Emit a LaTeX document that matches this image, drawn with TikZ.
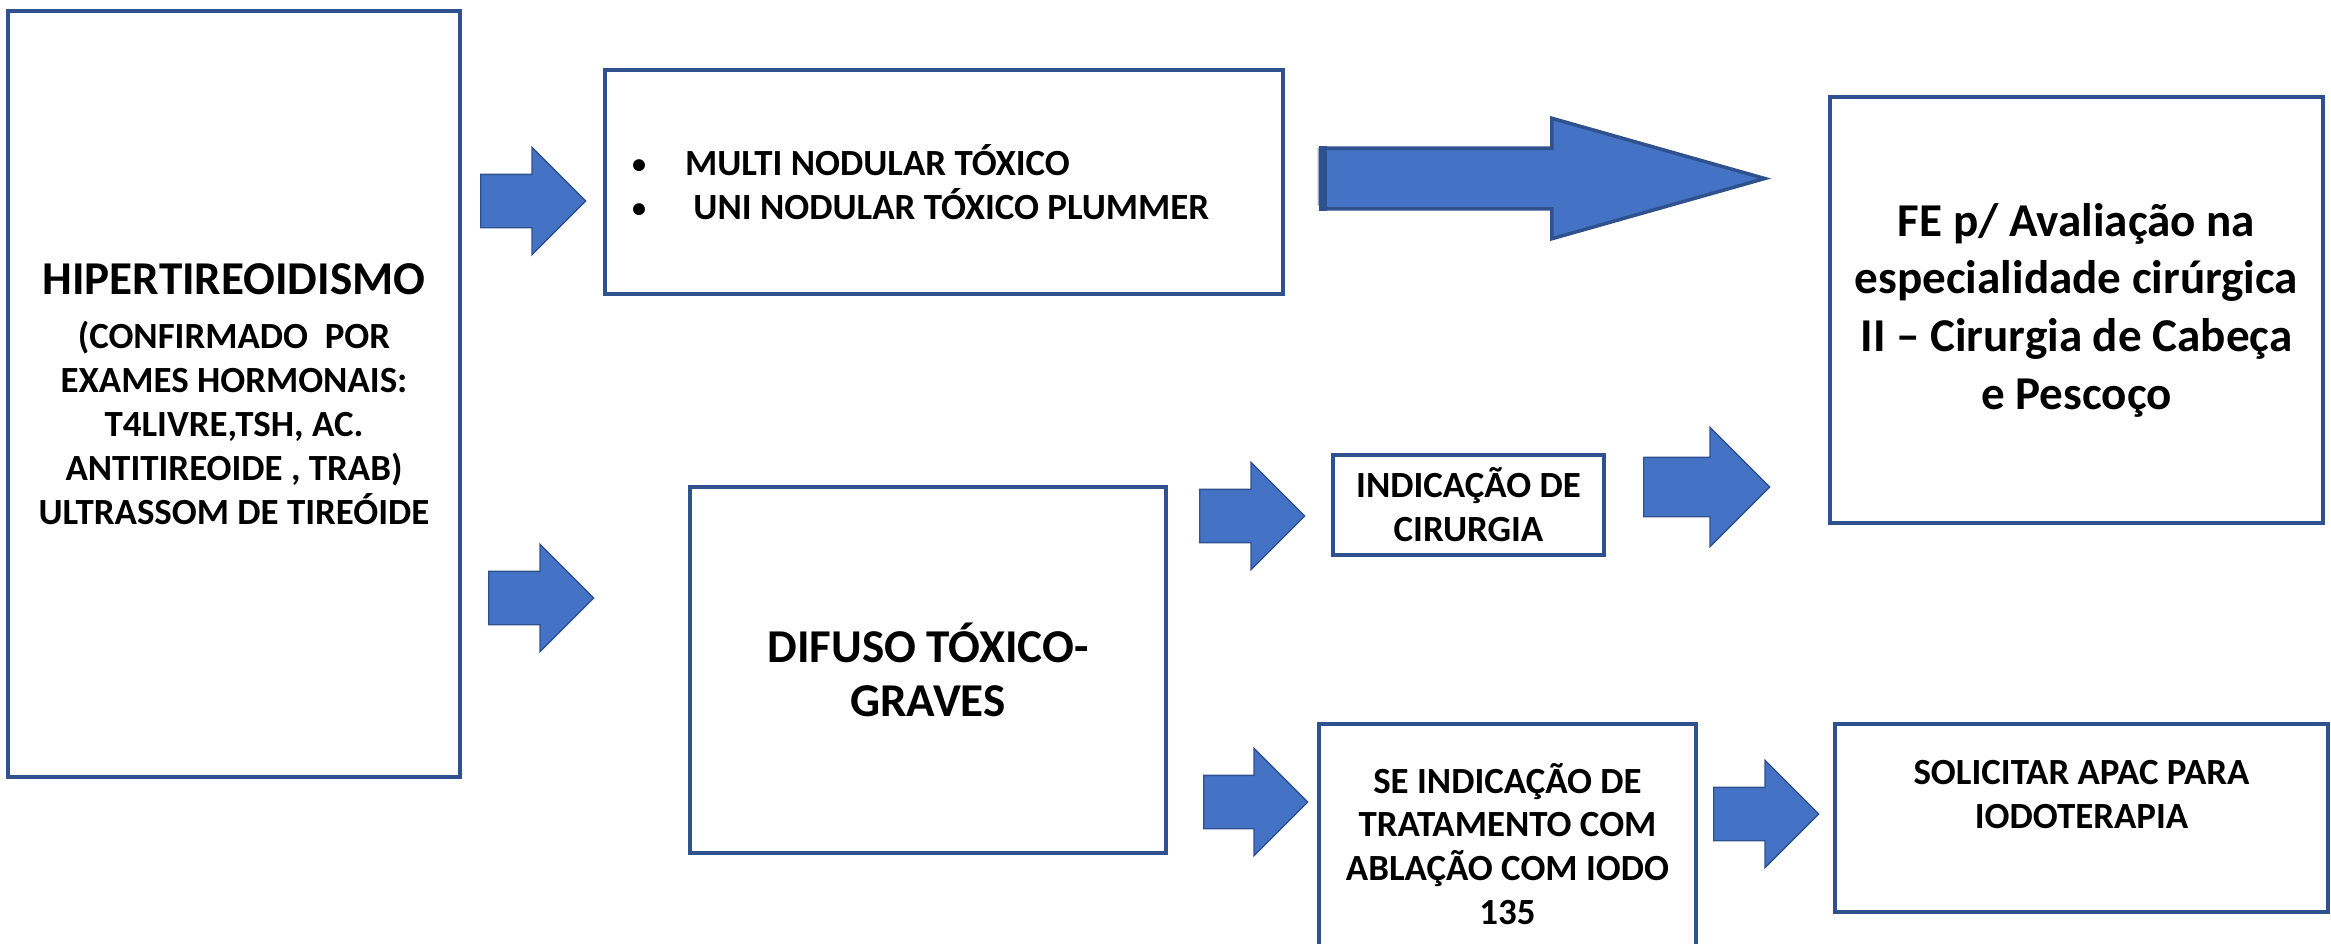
\documentclass[tikz,border=0pt]{standalone}
\usepackage{fontspec}
\setmainfont{Carlito}
\usetikzlibrary{shapes.arrows,positioning}
\definecolor{boxblue}{HTML}{2F528F}
\definecolor{fillblue}{HTML}{4472C4}
\definecolor{paleblue}{HTML}{9AAACB}
\tikzset{
  box/.style   = {draw=boxblue, line width=0.9pt, rectangle, align=center, inner sep=0pt},
  small/.style = {align=center, inner sep=0pt, font=\bfseries\fontsize{10.5}{12.5}\selectfont},
  large/.style = {font=\bfseries\fontsize{13.4}{16.4}\selectfont},
  blockarrow/.style = {single arrow, fill=fillblue, draw=boxblue, line width=0.4pt,
    single arrow head extend=0.27cm, single arrow tip angle=90, single arrow head indent=0pt,
    inner xsep=0pt, inner ysep=0.26cm, minimum height=1.05cm, anchor=tail}
}
\newcommand{\bul}{\makebox[0.53cm][l]{\raisebox{0.02cm}{\fontsize{8}{8}\selectfont •}}}

\begin{document}
\begin{tikzpicture}
      \useasboundingbox (0,0) rectangle (23.31,-9.44);
      % boxes
      \node[box, small, minimum width=4.52cm, minimum height=7.66cm] (hiper) at (2.34,-3.94)
      {{\fontsize{13.4}{16}\selectfont HIPERTIREOIDISMO}\\[0.1cm]
       (CONFIRMADO \ POR\\ EXAMES HORMONAIS:\\ T4LIVRE,TSH, AC.\\
       ANTITIREOIDE , TRAB)\\ ULTRASSOM DE TIREÓIDE};
      \node[box, minimum width=6.78cm, minimum height=2.24cm] (nodular) at (9.44,-1.82) {};
      \node[box, large, minimum width=4.93cm, minimum height=4.26cm] (fe) at (20.765,-3.10)
      {FE p/ Avaliação na\\ especialidade cirúrgica\\ II – Cirurgia de Cabeça\\ e Pescoço};
      \node[box, large, minimum width=4.76cm, minimum height=3.66cm] (difuso) at (9.28,-6.70)
      {DIFUSO TÓXICO-\\[-0.03cm] GRAVES};
      \node[box, small, minimum width=2.71cm, minimum height=1.00cm] (cirurgia) at (14.685,-5.05)
      {INDICAÇÃO DE\\ CIRURGIA};
      \node[box, small, minimum width=3.77cm, minimum height=2.40cm] (iodo) at (15.075,-8.44)
      {SE INDICAÇÃO DE\\ TRATAMENTO COM\\ ABLAÇÃO COM IODO\\ 135};
      \node[box, minimum width=4.93cm, minimum height=1.88cm] (apac) at (20.815,-8.18) {};
      %Labels
      \node[small, align=left, right=0.28cm of nodular.west]
      (nodularTxt) {\bul MULTI NODULAR TÓXICO\\ \bul\ UNI NODULAR TÓXICO PLUMMER};
      \node[small, below=0.37cm of apac.north] (apacTxt) {SOLICITAR APAC PARA\\ IODOTERAPIA};
      % arrows
      \node[blockarrow] (arTop) at (4.80,-2.01) {};
      \node[blockarrow] (arBot) at (4.88,-5.98) {};
      \node[blockarrow] (arCir) at (11.99,-5.16) {};
      \node[blockarrow, minimum height=1.04cm] (arIodo) at (12.03,-8.02) {};
      \node[blockarrow, minimum height=1.26cm, inner ysep=0.29cm,
            single arrow head extend=0.30cm] (arFE) at (16.43,-4.87) {};
      \node[blockarrow] (arApac) at (17.13,-8.14) {};
      % big arrow with bevel
      \node[blockarrow, fill=paleblue, draw=none, minimum height=4.44cm, inner ysep=0.285cm,
            single arrow head extend=0.30cm, single arrow tip angle=31.6] (arBigShade) at (13.17,-1.765) {};
      \node[blockarrow, line width=1pt, minimum height=4.44cm, inner ysep=0.285cm,
            single arrow head extend=0.30cm, single arrow tip angle=31.6] (arBig) at (13.19,-1.785) {};
      \draw[boxblue, line width=2.3pt] ([xshift=0.04cm]arBig.after tail) -- ([xshift=0.04cm]arBig.before tail);
\end{tikzpicture}
\end{document}
